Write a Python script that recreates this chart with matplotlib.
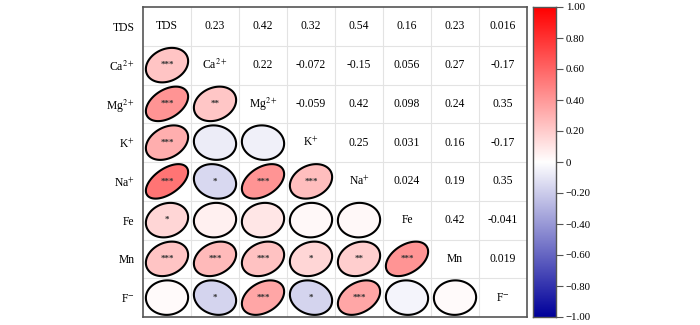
import numpy as np
import matplotlib
matplotlib.use("Agg")
import matplotlib.pyplot as plt
from matplotlib.colors import LinearSegmentedColormap
from matplotlib.patches import Polygon

plt.rcParams['font.family'] = ['Liberation Serif', 'DejaVu Serif']
plt.rcParams['mathtext.fontset'] = 'stix'

labels = ['TDS', 'Ca$^{2+}$', 'Mg$^{2+}$', 'K$^{+}$', 'Na$^{+}$', 'Fe', 'Mn', 'F$^{-}$']
# upper triangle values (row i, column j>i)
upper_text = {
    (0, 1): '0.23', (0, 2): '0.42', (0, 3): '0.32', (0, 4): '0.54', (0, 5): '0.16', (0, 6): '0.23', (0, 7): '0.016',
    (1, 2): '0.22', (1, 3): '-0.072', (1, 4): '-0.15', (1, 5): '0.056', (1, 6): '0.27', (1, 7): '-0.17',
    (2, 3): '-0.059', (2, 4): '0.42', (2, 5): '0.098', (2, 6): '0.24', (2, 7): '0.35',
    (3, 4): '0.25', (3, 5): '0.031', (3, 6): '0.16', (3, 7): '-0.17',
    (4, 5): '0.024', (4, 6): '0.19', (4, 7): '0.35',
    (5, 6): '0.42', (5, 7): '-0.041',
    (6, 7): '0.019',
}
# significance stars for lower triangle (row i > column j)
stars = {
    (1, 0): '***', (2, 0): '***', (2, 1): '**', (3, 0): '***',
    (4, 0): '***', (4, 1): '*', (4, 2): '***', (4, 3): '***',
    (5, 0): '*',
    (6, 0): '***', (6, 1): '***', (6, 2): '***', (6, 3): '*', (6, 4): '**', (6, 5): '***',
    (7, 1): '*', (7, 2): '***', (7, 3): '*', (7, 4): '***',
}
cbar_ticks = [-1.0, -0.8, -0.6, -0.4, -0.2, 0, 0.2, 0.4, 0.6, 0.8, 1.0]

n = len(labels)
R = np.eye(n)
for (i, j), s in upper_text.items():
    R[i, j] = R[j, i] = float(s)

cmap = LinearSegmentedColormap.from_list('bwr2', ['#00009A', '#FFFFFF', '#FF0000'])

fig = plt.figure(figsize=(7.0, 3.25), dpi=100)
ax = fig.add_axes([143/700, 1-317/325, 384/700, 310/325])
ax.set_xlim(0, n)
ax.set_ylim(n, 0)

# grid
for k in range(1, n):
    ax.axhline(k, color='#e3e3e3', lw=0.8, zorder=0)
    ax.axvline(k, color='#e3e3e3', lw=0.8, zorder=0)

t = np.linspace(0, 2*np.pi, 200)
radx, rady = 0.44, 0.445
fs = 8.4
for i in range(n):
    for j in range(n):
        cx, cy = j + 0.5, i + 0.5
        if i == j:
            ax.text(cx, cy, labels[i], ha='center', va='center', fontsize=fs)
        elif j > i:
            ax.text(cx, cy, upper_text[(i, j)], ha='center', va='center', fontsize=fs)
        else:
            r = R[i, j]
            d = np.arccos(r)
            ex = np.cos(t + d/2)
            ey = np.cos(t - d/2)
            pts = np.column_stack([cx + radx*ex, cy - rady*ey])
            poly = Polygon(pts, closed=True, facecolor=cmap((r+1)/2),
                           edgecolor='black', lw=1.5, zorder=2)
            ax.add_patch(poly)
            if (i, j) in stars:
                ax.text(cx, cy, stars[(i, j)], ha='center', va='center',
                        fontsize=6.5, color='#333333', fontweight='bold', zorder=3)

ax.set_xticks([])
ax.set_yticks(np.arange(n) + 0.5)
ax.set_yticklabels(labels, fontsize=fs)
ax.tick_params(axis='y', length=0, pad=6)
for sp in ax.spines.values():
    sp.set_color('#555555')
    sp.set_linewidth(1.2)

cax = fig.add_axes([533/700, 1-317/325, 23/700, 310/325])
grad = np.linspace(-1, 1, 256).reshape(-1, 1)
cax.imshow(grad, aspect='auto', cmap=cmap, origin='lower', extent=[0, 1, -1, 1])
cax.set_xticks([])
cax.yaxis.tick_right()
cax.set_yticks(cbar_ticks)
tl = []
for v in cbar_ticks:
    if v == 0:
        tl.append('0')
    elif v < 0:
        tl.append('\u2212%.2f' % abs(v))
    else:
        tl.append('%.2f' % v)
cax.set_yticklabels(tl, fontsize=7.8)
cax.tick_params(axis='y', length=5, width=0.8, color='#555555', pad=2)
for sp in cax.spines.values():
    sp.set_color('#555555')
    sp.set_linewidth(1.0)

fig.savefig('out.png', dpi=100)
